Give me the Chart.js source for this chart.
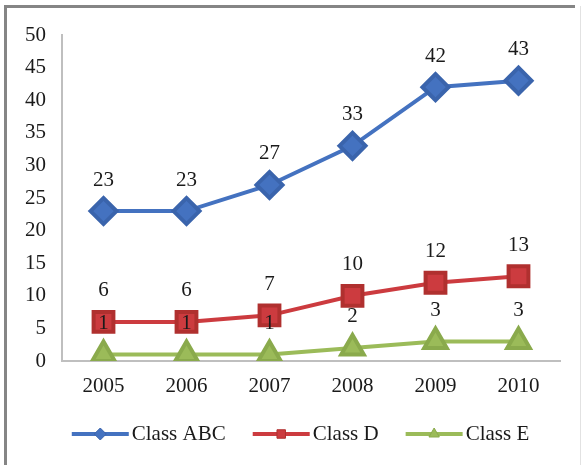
<!DOCTYPE html>
<html>
<head>
<meta charset="utf-8">
<script src="https://cdn.jsdelivr.net/npm/chart.js@4"></script>
<style>
  html, body { margin: 0; padding: 0; background: #fff; }
  #wrap { width: 583px; height: 465px; position: relative; }
</style>
</head>
<body>
<div id="wrap"><canvas id="c" width="583" height="465"></canvas></div>
<script>
// Enrolment by class, 2005–2010
const years = ['2005', '2006', '2007', '2008', '2009', '2010'];
const classABC = [23, 23, 27, 33, 42, 43];
const classD = [6, 6, 7, 10, 12, 13];
const classE = [1, 1, 1, 2, 3, 3];
const seriesNames = ['Class ABC', 'Class D', 'Class E'];

const FONT = '"Liberation Serif", "Times New Roman", serif';
const TEXT = '#1a1a1a';

// Value labels above each point, drawn after all lines so they sit on top
const valueLabels = {
  id: 'valueLabels',
  afterDatasetsDraw(chart) {
    const ctx = chart.ctx;
    ctx.save();
    ctx.font = '21px ' + FONT;
    ctx.fillStyle = TEXT;
    ctx.textAlign = 'center';
    ctx.textBaseline = 'middle';
    chart.data.datasets.forEach((ds, i) => {
      const meta = chart.getDatasetMeta(i);
      meta.data.forEach((pt, j) => {
        ctx.fillText(String(ds.data[j]), pt.x, pt.y - 31);
      });
    });
    ctx.restore();
  }
};

// Legend row: short line with marker, then series name
const lineLegend = {
  id: 'lineLegend',
  afterDraw(chart) {
    const ctx = chart.ctx;
    const y = 434;
    const lineW = 57, gap = 3, itemGap = 27;
    ctx.save();
    ctx.font = '21px ' + FONT;
    const widths = chart.data.datasets.map(ds => lineW + gap + ctx.measureText(ds.label).width);
    const total = widths.reduce((a, b) => a + b, 0) + itemGap * (widths.length - 1);
    let x = (chart.width - total) / 2 + 9;
    chart.data.datasets.forEach((ds, i) => {
      ctx.strokeStyle = ds.borderColor;
      ctx.lineWidth = 4;
      ctx.beginPath();
      ctx.moveTo(x, y);
      ctx.lineTo(x + lineW, y);
      ctx.stroke();
      ctx.fillStyle = ds.pointBackgroundColor;
      ctx.strokeStyle = ds.pointBorderColor;
      ctx.lineWidth = 1;
      Chart.helpers.drawPoint(ctx, { pointStyle: ds.pointStyle, radius: 6, borderWidth: 1 }, x + lineW / 2, y);
      ctx.fillStyle = TEXT;
      ctx.textAlign = 'left';
      ctx.textBaseline = 'middle';
      ctx.fillText(ds.label, x + lineW + gap, y);
      x += widths[i] + itemGap;
    });
    ctx.restore();
  }
};

// Frame around the whole figure
const frame = {
  id: 'frame',
  beforeDraw(chart) {
    const ctx = chart.ctx;
    ctx.save();
    ctx.fillStyle = '#ffffff';
    ctx.fillRect(0, 0, chart.width, chart.height);
    ctx.strokeStyle = '#e2e2e2';
    ctx.lineWidth = 1;
    ctx.beginPath();
    ctx.moveTo(580.5, 6);
    ctx.lineTo(580.5, chart.height);
    ctx.stroke();
    ctx.strokeStyle = '#858585';
    ctx.lineWidth = 3;
    ctx.beginPath();
    ctx.moveTo(5.5, chart.height);
    ctx.lineTo(5.5, 6.5);
    ctx.lineTo(575, 6.5);
    ctx.stroke();
    ctx.restore();
  }
};

new Chart(document.getElementById('c'), {
  type: 'line',
  data: {
    labels: years,
    datasets: [
      {
        label: seriesNames[0],
        data: classABC,
        borderColor: '#4472C0',
        backgroundColor: '#4472C0',
        pointBackgroundColor: '#4472C0',
        pointBorderColor: '#3A64AC',
        pointStyle: 'rectRot',
        pointRadius: 13,
        borderWidth: 4
      },
      {
        label: seriesNames[1],
        data: classD,
        borderColor: '#CC3B3F',
        backgroundColor: '#CC3B3F',
        pointBackgroundColor: '#CC3B3F',
        pointBorderColor: '#B0302F',
        pointStyle: 'rect',
        pointRadius: 14,
        borderWidth: 4
      },
      {
        label: seriesNames[2],
        data: classE,
        borderColor: '#9BBB59',
        backgroundColor: '#9BBB59',
        pointBackgroundColor: '#9BBB59',
        pointBorderColor: '#8AAA4C',
        pointStyle: 'triangle',
        pointRadius: 13,
        borderWidth: 4
      }
    ]
  },
  options: {
    responsive: false,
    animation: false,
    devicePixelRatio: 1,
    layout: { padding: { top: 35, right: 23, left: 0, bottom: 0 } },
    plugins: {
      legend: { display: false },
      tooltip: { enabled: false }
    },
    elements: {
      line: { tension: 0 },
      point: { borderWidth: 1 }
    },
    scales: {
      x: {
        offset: true,
        grid: { display: false, drawTicks: false },
        border: { display: true, color: '#BFBFBF', width: 2 },
        ticks: { color: TEXT, font: { family: FONT, size: 21 }, padding: 13, maxRotation: 0 },
        afterFit(scale) { scale.height = 104; }
      },
      y: {
        min: 0,
        max: 50,
        grid: { display: false, drawTicks: false },
        border: { display: true, color: '#BFBFBF', width: 2 },
        ticks: { stepSize: 5, color: TEXT, font: { family: FONT, size: 21 }, padding: 16 },
        afterFit(scale) { scale.width = 62; }
      }
    }
  },
  plugins: [frame, valueLabels, lineLegend]
});
</script>
</body>
</html>
